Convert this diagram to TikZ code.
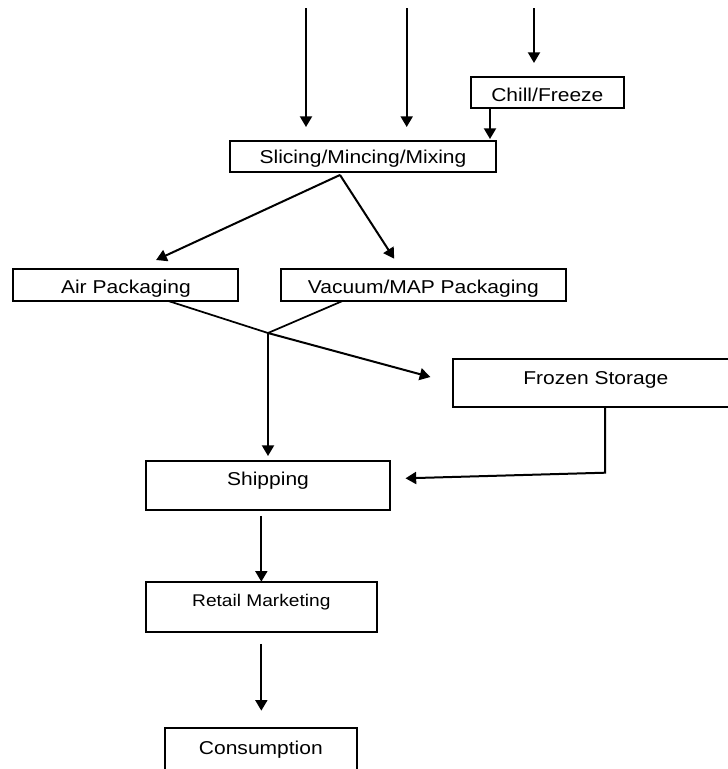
\documentclass[tikz,border=0pt]{standalone}
\usepackage{fontspec}
\setmainfont{Liberation Sans}[FakeStretch=1.13]
\usetikzlibrary{arrows.meta,calc}

\tikzset{
  stagebox/.style={draw, line width=1.5pt, inner xsep=0pt, inner ysep=0pt,
    outer sep=0pt, anchor=north west, font=\fontsize{13.95pt}{16pt}\selectfont},
  flow/.style={line width=1.5pt, -{Triangle[length=8pt,width=9pt]}},
  plain/.style={line width=1.3pt}
}

\begin{document}
\begin{tikzpicture}[x=0.75pt, y=-0.75pt]
  \useasboundingbox (0,0) rectangle (728,769);

  % process stages
  \node[stagebox, minimum width=115pt, text height=18.75pt, text depth=4.95pt]
    (chill) at (470.7,76.7) {Chill/Freeze};
  \node[stagebox, minimum width=199.5pt, text height=16.7pt, text depth=6.3pt]
    (slice) at (230,141) {Slicing/Mincing/Mixing};
  \node[stagebox, minimum width=168.75pt, text height=18.2pt, text depth=5.8pt]
    (air) at (13.4,269) {Air Packaging};
  \node[stagebox, minimum width=214.4pt, text height=18.2pt, text depth=5.8pt]
    (vac) at (280.5,269) {Vacuum/MAP Packaging};
  \node[stagebox, minimum width=213.75pt, text height=18.75pt, text depth=16.8pt]
    (frozen) at (453.3,359.3) {Frozen Storage};
  \node[stagebox, minimum width=183pt, text height=18.5pt, text depth=18.2pt]
    (ship) at (146,461) {Shipping};
  \node[stagebox, minimum width=173pt, text height=18.75pt, text depth=18.75pt,
    font=\fontsize{12.7pt}{15pt}\selectfont]
    (retail) at (146,581.7) {Retail Marketing};
  \node[stagebox, minimum width=143.8pt, text height=19.5pt, text depth=16.5pt]
    (cons) at (165,728.3) {Consumption};

  % incoming raw material
  \coordinate (src1) at (306,8);
  \coordinate (src2) at (406.7,8);
  \coordinate (src3) at (534,8);
  \draw[flow, shorten >=10.5pt] (src1) -- (src1 |- slice.north);
  \draw[flow, shorten >=10.5pt] (src2) -- (src2 |- slice.north);
  \draw[flow, shorten >=10.3pt] (src3) -- (src3 |- chill.north);

  % chilled material into slicing
  \coordinate (chillout) at ($(chill.south west)+(19.3,0)$);
  \draw[flow, shorten >=1.5pt] (chillout) -- (chillout |- slice.north);

  % split into the two packaging routes
  \coordinate (sliceout) at ($(slice.south)+(-23,3.3)$);
  \coordinate (airtip) at (156.1,260);
  \coordinate (vactip) at (394.2,258.7);
  \draw[flow] (sliceout) -- (airtip);
  \draw[flow] (sliceout) -- (vactip);

  % packaged product merges
  \coordinate (join) at (268,333);
  \draw[plain] ($(air.south west)+(155,0)$) -- (join);
  \draw[plain] ($(vac.south west)+(62,0)$) -- (join);
  \coordinate (frtip) at (430.4,377);
  \draw[flow] (join) -- (frtip);
  \draw[flow, shorten >=3.75pt] (join) -- (join |- ship.north);

  % frozen storage to shipping
  \coordinate (frout) at ($(frozen.south west)+(151.7,0)$);
  \coordinate (shiptip) at (405.5,478.3);
  \draw[flow] (frout) -- ++(0,66) -- (shiptip);

  % distribution chain
  \draw[flow, shorten <=4.5pt] (retail.north |- ship.south) -- (retail.north);
  \draw[flow, shorten <=9.2pt, shorten >=13.2pt] (retail.south) -- (retail.south |- cons.north);
\end{tikzpicture}
\end{document}
